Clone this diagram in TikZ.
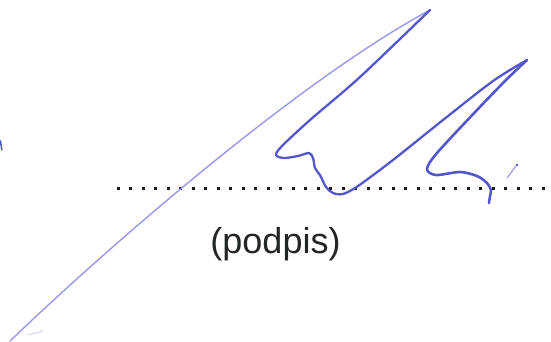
\documentclass[tikz,border=0pt]{standalone}
\usepackage{fontspec}
\setmainfont{Liberation Sans}
\definecolor{inkdark}{RGB}{86,86,204}
\definecolor{inklight}{RGB}{152,152,236}
\definecolor{inkfaint}{RGB}{200,200,245}
\definecolor{dotcol}{RGB}{26,26,26}
\definecolor{txtcol}{RGB}{34,38,38}
\tikzset{
  inkthin/.style={draw=inklight, line width=1.4pt, line cap=round, line join=round},
  inkthick/.style={draw=inkdark, line width=2.6pt, line cap=round, line join=round},
  dotsq/.style={fill=dotcol},
}
\begin{document}
\begin{tikzpicture}[x=1pt,y=-1pt]
\useasboundingbox (0,0) rectangle (551,341);
% dotted signature line
\foreach \i in {0,...,34}{
  \fill[dotsq] ({118.3+12.5*\i-1.5},186.5) rectangle ++(3,3);
}
% caption
\node[font=\fontsize{36}{40}\selectfont, text=txtcol, anchor=base, inner sep=0pt] (lbl) at (275.5,253) {(podpis)};
% signature: long thin up-stroke
\draw[inkthin] (10,341) .. controls (110,245) and (300,80) .. (430,10);
\draw[draw=inkfaint, line width=0.8pt, line cap=round] (28,335) -- (43,331);
% first down-stroke, wiggle and second up-stroke
\draw[inkthick, line width=2.3pt] plot[smooth, tension=0.5] coordinates {(430,10) (360,77) (310,120) (282,146) (276,155) (284,158) (298,156) (309,153) (313,158) (315,168) (320,175) (326,187) (333,193) (343,194) (358,186) (393,160) (443,120) (493,81) (527,60)};
% second down-stroke and tail
\draw[inkthick] plot[smooth, tension=0.5] coordinates {(527,60) (506,80) (477,110) (437,153) (427,169) (436,175) (460,172) (477,176) (487,183) (491,190) (490,196) (489,203)};
% small tick
\draw[draw=inklight, line width=1.1pt, line cap=round] (507,178) -- (516,166);
\fill[inkdark] (517,165) circle (1.4);
% left edge mark
\draw[inkdark, line width=1.6pt, line cap=round] (0.5,141) -- (1.8,150);
\end{tikzpicture}
\end{document}
